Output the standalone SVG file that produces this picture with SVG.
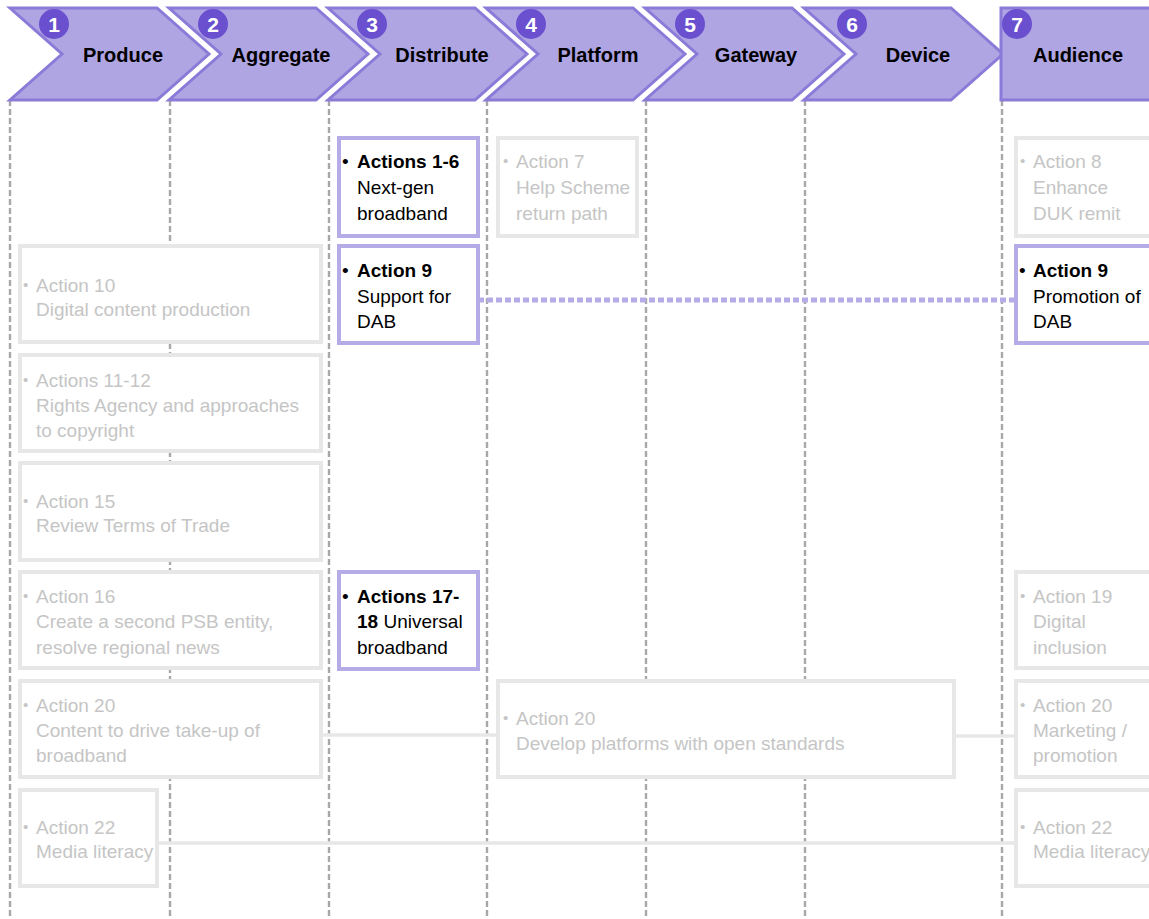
<svg xmlns="http://www.w3.org/2000/svg" width="1149" height="919" viewBox="0 0 1149 919">
<style>
.chev{fill:#afa5e3;stroke:#8b7ad8;stroke-width:3;stroke-linejoin:miter}
.badge{fill:#6a4fcf}
.num{font-family:"Liberation Sans",Arial,sans-serif;font-weight:bold;font-size:21px;fill:#fff;text-anchor:middle}
.hdr{font-family:"Liberation Sans",Arial,sans-serif;font-weight:bold;font-size:20px;fill:#000;text-anchor:middle}
.col{stroke:#a8a8a8;stroke-width:2.4;stroke-dasharray:6 3;fill:none}
.pbox{fill:#fff;stroke:#b5abe6;stroke-width:4}
.gbox{fill:#fff;stroke:#e7e7e7;stroke-width:4}
.t{font-family:"Liberation Sans",Arial,sans-serif;font-size:19px}
.pt{fill:#000}
.gt{fill:#c5c5c5}
.bul{font-size:15px}
.b{font-weight:bold}
.glink{stroke:#e7e7e7;stroke-width:3.5;fill:none}
.plink{stroke:#b5abe6;stroke-width:5;stroke-dasharray:6 3;fill:none}
</style>
<rect x="0" y="0" width="1149" height="919" fill="#fff"/>

<g id="columns">
<line class="col" x1="10" y1="100" x2="10" y2="919"/>
<line class="col" x1="170" y1="100" x2="170" y2="919"/>
<line class="col" x1="329" y1="100" x2="329" y2="919"/>
<line class="col" x1="487" y1="100" x2="487" y2="919"/>
<line class="col" x1="646" y1="100" x2="646" y2="919"/>
<line class="col" x1="805" y1="100" x2="805" y2="919"/>
<line class="col" x1="1002" y1="100" x2="1002" y2="919"/>
</g>

<g id="header">
<g id="step1">
<polygon class="chev" points="10,8 157,8 209,54 157,100 10,100 62,54"/>
<circle class="badge" cx="54" cy="24" r="15"/><text class="num" x="54" y="31.5">1</text>
<text class="hdr" x="123" y="62">Produce</text>
</g>
<g id="step2">
<polygon class="chev" points="169,8 316,8 368,54 316,100 169,100 221,54"/>
<circle class="badge" cx="213" cy="24" r="15"/><text class="num" x="213" y="31.5">2</text>
<text class="hdr" x="281" y="62">Aggregate</text>
</g>
<g id="step3">
<polygon class="chev" points="328,8 475,8 527,54 475,100 328,100 380,54"/>
<circle class="badge" cx="372" cy="24" r="15"/><text class="num" x="372" y="31.5">3</text>
<text class="hdr" x="442" y="62">Distribute</text>
</g>
<g id="step4">
<polygon class="chev" points="486,8 633,8 685,54 633,100 486,100 538,54"/>
<circle class="badge" cx="531" cy="24" r="15"/><text class="num" x="531" y="31.5">4</text>
<text class="hdr" x="598" y="62">Platform</text>
</g>
<g id="step5">
<polygon class="chev" points="645,8 792,8 844,54 792,100 645,100 697,54"/>
<circle class="badge" cx="690" cy="24" r="15"/><text class="num" x="690" y="31.5">5</text>
<text class="hdr" x="756" y="62">Gateway</text>
</g>
<g id="step6">
<polygon class="chev" points="804,8 951,8 1003,54 951,100 804,100 856,54"/>
<circle class="badge" cx="852" cy="24" r="15"/><text class="num" x="852" y="31.5">6</text>
<text class="hdr" x="918" y="62">Device</text>
</g>
<g id="step7">
<rect class="chev" x="1001" y="8" width="170" height="92"/>
<circle class="badge" cx="1017" cy="24" r="15"/><text class="num" x="1017" y="31.5">7</text>
<text class="hdr" x="1078" y="62">Audience</text>
</g>
</g>

<g id="connectors">
<line class="plink" x1="478" y1="300" x2="1016" y2="300"/>
<line class="glink" x1="321" y1="735" x2="498" y2="735"/>
<line class="glink" x1="954" y1="736" x2="1016" y2="736"/>
<line class="glink" x1="157" y1="843" x2="1016" y2="843"/>
</g>

<g id="a1-6">
<rect class="pbox" x="339" y="138" width="139" height="98"/>
<text class="t pt" x="342" y="168">•</text>
<text class="t pt b" x="357" y="168">Actions 1-6</text>
<text class="t pt" x="357" y="194">Next-gen</text>
<text class="t pt" x="357" y="220">broadband</text>
</g>
<g id="a7">
<rect class="gbox" x="498" y="138" width="139" height="98"/>
<text class="t gt bul" x="503" y="166">•</text>
<text class="t gt" x="516" y="168">Action 7</text>
<text class="t gt" x="516" y="194">Help Scheme</text>
<text class="t gt" x="516" y="220">return path</text>
</g>
<g id="a8">
<rect class="gbox" x="1016" y="138" width="150" height="98"/>
<text class="t gt bul" x="1020" y="166">•</text>
<text class="t gt" x="1033" y="168">Action 8</text>
<text class="t gt" x="1033" y="194">Enhance</text>
<text class="t gt" x="1033" y="220">DUK remit</text>
</g>
<g id="a9-dist">
<rect class="pbox" x="339" y="246" width="139" height="97"/>
<text class="t pt" x="342" y="277">•</text>
<text class="t pt b" x="357" y="277">Action 9</text>
<text class="t pt" x="357" y="303">Support for</text>
<text class="t pt" x="357" y="328">DAB</text>
</g>
<g id="a9-aud">
<rect class="pbox" x="1016" y="246" width="150" height="97"/>
<text class="t pt" x="1019" y="277">•</text>
<text class="t pt b" x="1033" y="277">Action 9</text>
<text class="t pt" x="1033" y="303">Promotion of</text>
<text class="t pt" x="1033" y="328">DAB</text>
</g>
<g id="a10">
<rect class="gbox" x="20" y="246" width="301" height="96"/>
<text class="t gt bul" x="23" y="290">•</text>
<text class="t gt" x="36" y="292">Action 10</text>
<text class="t gt" x="36" y="316">Digital content production</text>
</g>
<g id="a11-12">
<rect class="gbox" x="20" y="355" width="301" height="96"/>
<text class="t gt bul" x="23" y="385">•</text>
<text class="t gt" x="36" y="387">Actions 11-12</text>
<text class="t gt" x="36" y="412">Rights Agency and approaches</text>
<text class="t gt" x="36" y="437">to copyright</text>
</g>
<g id="a15">
<rect class="gbox" x="20" y="463" width="301" height="97"/>
<text class="t gt bul" x="23" y="506">•</text>
<text class="t gt" x="36" y="508">Action 15</text>
<text class="t gt" x="36" y="532">Review Terms of Trade</text>
</g>
<g id="a16">
<rect class="gbox" x="20" y="572" width="301" height="96"/>
<text class="t gt bul" x="23" y="601">•</text>
<text class="t gt" x="36" y="603">Action 16</text>
<text class="t gt" x="36" y="628">Create a second PSB entity,</text>
<text class="t gt" x="36" y="654">resolve regional news</text>
</g>
<g id="a17-18">
<rect class="pbox" x="339" y="572" width="139" height="97"/>
<text class="t pt" x="342" y="603">•</text>
<text class="t pt b" x="357" y="603">Actions 17-</text>
<text class="t pt" x="357" y="628"><tspan class="b">18</tspan> Universal</text>
<text class="t pt" x="357" y="654">broadband</text>
</g>
<g id="a19">
<rect class="gbox" x="1016" y="572" width="150" height="96"/>
<text class="t gt bul" x="1020" y="601">•</text>
<text class="t gt" x="1033" y="603">Action 19</text>
<text class="t gt" x="1033" y="628">Digital</text>
<text class="t gt" x="1033" y="654">inclusion</text>
</g>
<g id="a20-content">
<rect class="gbox" x="20" y="681" width="301" height="96"/>
<text class="t gt bul" x="23" y="710">•</text>
<text class="t gt" x="36" y="712">Action 20</text>
<text class="t gt" x="36" y="737">Content to drive take-up of</text>
<text class="t gt" x="36" y="762">broadband</text>
</g>
<g id="a20-platforms">
<rect class="gbox" x="498" y="681" width="456" height="96"/>
<text class="t gt bul" x="503" y="723">•</text>
<text class="t gt" x="516" y="725">Action 20</text>
<text class="t gt" x="516" y="750">Develop platforms with open standards</text>
</g>
<g id="a20-marketing">
<rect class="gbox" x="1016" y="681" width="150" height="96"/>
<text class="t gt bul" x="1020" y="710">•</text>
<text class="t gt" x="1033" y="712">Action 20</text>
<text class="t gt" x="1033" y="737">Marketing /</text>
<text class="t gt" x="1033" y="762">promotion</text>
</g>
<g id="a22-left">
<rect class="gbox" x="20" y="790" width="137" height="96"/>
<text class="t gt bul" x="23" y="832">•</text>
<text class="t gt" x="36" y="834">Action 22</text>
<text class="t gt" x="36" y="858">Media literacy</text>
</g>
<g id="a22-right">
<rect class="gbox" x="1016" y="790" width="150" height="96"/>
<text class="t gt bul" x="1020" y="832">•</text>
<text class="t gt" x="1033" y="834">Action 22</text>
<text class="t gt" x="1033" y="858">Media literacy</text>
</g>
</svg>
